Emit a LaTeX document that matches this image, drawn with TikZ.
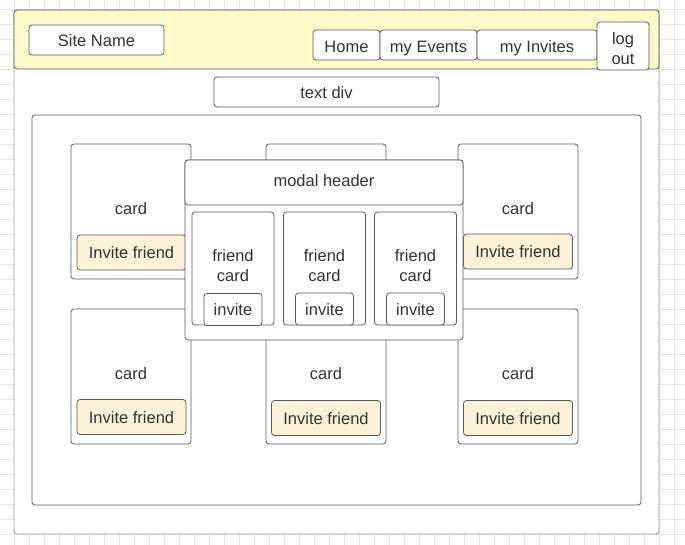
\documentclass[tikz,border=0pt]{standalone}
\usepackage{fontspec}
\setmainfont{Liberation Sans}
\definecolor{gridc}{HTML}{E6E6E6}
\definecolor{linec}{HTML}{5A5A5A}
\definecolor{framec}{HTML}{9A9A9A}
\definecolor{textc}{HTML}{333333}
\definecolor{headfill}{HTML}{FDFAC9}
\definecolor{invfill}{HTML}{FDF1D7}
\newcommand{\fs}{\fontsize{16.5}{20}\selectfont}
\tikzset{
  box/.style={draw=linec, line width=0.8pt, rounded corners=3pt, inner sep=0pt,
    text=textc, font=\fs, fill=white, align=center},
  one/.style={text height=14pt, text depth=1pt},
  navtxt/.style={text height=15.5pt, text depth=0.5pt},
  invbox/.style={box, one, fill=invfill},
  lbl/.style={inner sep=0pt, text=textc, font=\fs, align=center},
}
\begin{document}
\begin{tikzpicture}[x=1pt,y=-1pt]
\useasboundingbox (0,0) rectangle (685,545);
\fill[white] (0,0) rectangle (685,545);
% grid
\foreach \gx in {14,29,...,685} \draw[gridc, line width=0.6pt] (\gx,0) -- (\gx,545);
\foreach \gy in {9,24,...,545} \draw[gridc, line width=0.6pt] (0,\gy) -- (685,\gy);
% page frame and header band
\node[box, draw=framec, minimum width=645, minimum height=524] (frame) at (336.5,272) {};
\node[box, fill=headfill, minimum width=645, minimum height=59] (header) at (336.5,39.5) {};
\node[box, one, minimum width=135, minimum height=30] (site) at (96.5,40) {Site Name};
\node[box, navtxt, minimum width=67, minimum height=30] (home) at (346.5,45) {Home};
\node[box, navtxt, minimum width=97, minimum height=30] (events) at (428.5,45) {my Events};
\node[box, navtxt, minimum width=120, minimum height=30] (invites) at (537,45) {my Invites};
\node[box, minimum width=52, minimum height=48] (logout) at (623,46) {};
\node[lbl] (logoutl) at (623,48.5) {log\\out};
\node[box, one, minimum width=225, minimum height=30] (textdiv) at (326.5,92) {text div};
% container
\node[box, minimum width=609, minimum height=390] (container) at (336.5,310) {};
% cards
\node[box, minimum width=120, minimum height=135] (c1) at (131,211.5) {};
\node[box, minimum width=120, minimum height=135] (c2) at (326,211.5) {};
\node[box, minimum width=120, minimum height=135] (c3) at (518,211.5) {};
\node[box, minimum width=120, minimum height=135] (c4) at (131,376.5) {};
\node[box, minimum width=120, minimum height=135] (c5) at (326,376.5) {};
\node[box, minimum width=120, minimum height=135] (c6) at (518,376.5) {};
\node[lbl] (c1l) at (131,208.5) {card};
\node[lbl] (c3l) at (518,208.5) {card};
\node[lbl] (c4l) at (131,373.5) {card};
\node[lbl] (c5l) at (326,373.5) {card};
\node[lbl] (c6l) at (518,373.5) {card};
\node[invbox, minimum width=109, minimum height=35] (i1) at (131.5,252.5) {Invite friend};
\node[invbox, minimum width=109, minimum height=35] (i3) at (518,251.5) {Invite friend};
\node[invbox, minimum width=109, minimum height=35] (i4) at (131.5,417) {Invite friend};
\node[invbox, minimum width=109, minimum height=35] (i5) at (326,418) {Invite friend};
\node[invbox, minimum width=109, minimum height=35] (i6) at (518,418) {Invite friend};
% modal
\node[box, minimum width=278, minimum height=180] (modal) at (324,250) {};
\node[box, minimum width=278, minimum height=45] (mhead) at (324,182.5) {};
\node[lbl] (mheadl) at (324,180.5) {modal header};
\node[box, minimum width=82, minimum height=113] (f1) at (233,268.5) {};
\node[box, minimum width=82, minimum height=113] (f2) at (324.5,268.5) {};
\node[box, minimum width=82, minimum height=113] (f3) at (415.5,268.5) {};
\node[lbl] (f1l) at (233,266) {friend\\card};
\node[lbl] (f2l) at (324.5,266) {friend\\card};
\node[lbl] (f3l) at (415.5,266) {friend\\card};
\node[box, one, minimum width=58, minimum height=32] (b1) at (233,309.5) {invite};
\node[box, one, minimum width=58, minimum height=32] (b2) at (324.5,309) {invite};
\node[box, one, minimum width=58, minimum height=32] (b3) at (415.5,309) {invite};
\end{tikzpicture}
\end{document}
